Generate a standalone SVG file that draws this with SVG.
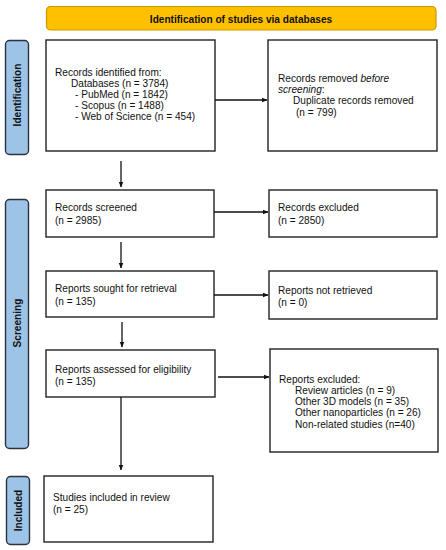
<svg xmlns="http://www.w3.org/2000/svg" width="446" height="550" viewBox="0 0 446 550">
<style>
text{font-family:"Liberation Sans",Arial,sans-serif;font-size:10.1px;fill:#111}
.box{fill:#fff;stroke:#222;stroke-width:1.4}
.side{fill:#9DC3E6;stroke:#2a3340;stroke-width:1.4}
.lab{font-weight:bold;text-anchor:middle}
.conn line{stroke:#111;stroke-width:1.3}
</style>
<defs>
<marker id="ah" viewBox="0 0 10 10" refX="9" refY="5" markerWidth="6" markerHeight="6" orient="auto" markerUnits="userSpaceOnUse">
<path d="M0,1 L10,5 L0,9 z" fill="#111"/>
</marker>
</defs>
<rect width="446" height="550" fill="#fff"/>
<g id="header">
<rect x="46.5" y="6.5" width="389.5" height="23.5" rx="4" fill="#FFC000" stroke="#c99a00" stroke-width="1.2"/>
<text x="241" y="22.5" class="lab">Identification of studies via databases</text>
</g>
<g id="side-identification">
<rect x="5.5" y="40.5" width="23" height="114" rx="4" class="side"/>
<text class="lab" transform="translate(20.5,95) rotate(-90)">Identification</text>
</g>
<g id="side-screening">
<rect x="5.5" y="199.5" width="23" height="249" rx="4" class="side"/>
<text class="lab" transform="translate(20.5,323) rotate(-90)">Screening</text>
</g>
<g id="side-included">
<rect x="6.5" y="476.5" width="23" height="68" rx="4" class="side"/>
<text class="lab" transform="translate(21.5,510.5) rotate(-90)">Included</text>
</g>
<g id="records-identified">
<rect x="46" y="40" width="169" height="111" class="box"/>
<text x="55" y="76">Records identified from:</text>
<text x="71" y="87">Databases (n = 3784)</text>
<text x="75" y="98">- PubMed (n = 1842)</text>
<text x="75" y="109">- Scopus (n = 1488)</text>
<text x="75" y="120">- Web of Science (n = 454)</text>
</g>
<g id="records-removed">
<rect x="268" y="40" width="169" height="111" class="box"/>
<text x="278" y="82">Records removed <tspan font-style="italic">before</tspan></text>
<text x="278" y="93"><tspan font-style="italic">screening</tspan>:</text>
<text x="293" y="104">Duplicate records removed</text>
<text x="296" y="116">(n = 799)</text>
</g>
<g id="records-screened">
<rect x="46" y="190" width="168" height="47" class="box"/>
<text x="55" y="211">Records screened</text>
<text x="55" y="224">(n = 2985)</text>
</g>
<g id="records-excluded">
<rect x="269" y="190" width="168" height="47" class="box"/>
<text x="278" y="211">Records excluded</text>
<text x="278" y="224">(n = 2850)</text>
</g>
<g id="reports-sought">
<rect x="46" y="271" width="168" height="46" class="box"/>
<text x="55" y="292">Reports sought for retrieval</text>
<text x="55" y="305">(n = 135)</text>
</g>
<g id="reports-not-retrieved">
<rect x="269" y="271" width="168" height="48" class="box"/>
<text x="278" y="294">Reports not retrieved</text>
<text x="278" y="306">(n = 0)</text>
</g>
<g id="reports-assessed">
<rect x="46" y="350" width="169" height="47" class="box"/>
<text x="55" y="373">Reports assessed for eligibility</text>
<text x="55" y="385">(n = 135)</text>
</g>
<g id="reports-excluded">
<rect x="270" y="349" width="168" height="103" class="box"/>
<text x="279" y="383">Reports excluded:</text>
<text x="295" y="394">Review articles (n = 9)</text>
<text x="295" y="405">Other 3D models (n = 35)</text>
<text x="295" y="416">Other nanoparticles (n = 26)</text>
<text x="295" y="428">Non-related studies (n=40)</text>
</g>
<g id="studies-included">
<rect x="44" y="476" width="169" height="66" class="box"/>
<text x="53" y="501">Studies included in review</text>
<text x="53" y="513">(n = 25)</text>
</g>
<g id="connectors" class="conn">
<line x1="215" y1="100" x2="267" y2="100" marker-end="url(#ah)"/>
<line x1="121" y1="161" x2="121" y2="187" marker-end="url(#ah)"/>
<line x1="214" y1="212" x2="268" y2="212" marker-end="url(#ah)"/>
<line x1="121" y1="242" x2="121" y2="268" marker-end="url(#ah)"/>
<line x1="214" y1="295" x2="268" y2="295" marker-end="url(#ah)"/>
<line x1="122" y1="322" x2="122" y2="347" marker-end="url(#ah)"/>
<line x1="218" y1="377" x2="269" y2="377" marker-end="url(#ah)"/>
<line x1="121" y1="397" x2="121" y2="470" marker-end="url(#ah)"/>
</g>
</svg>
